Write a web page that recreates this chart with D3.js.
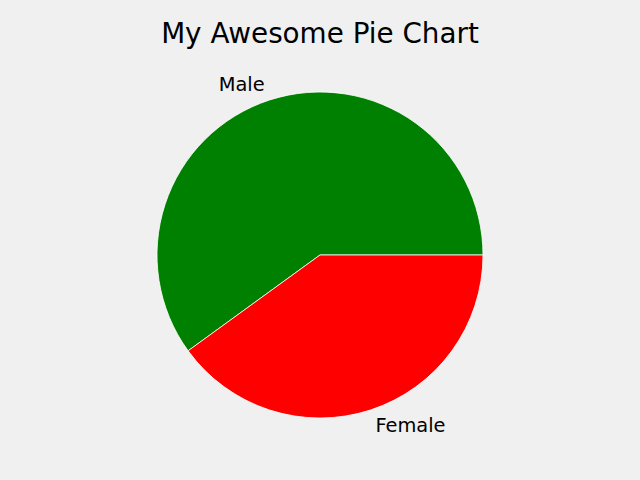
<!DOCTYPE html>
<html>
<head>
<meta charset="utf-8">
<script src="https://cdn.jsdelivr.net/npm/d3@7"></script>
<style>
  html, body { margin: 0; padding: 0; background: #f0f0f0; }
  svg { display: block; }
</style>
</head>
<body>
<script>
const categories = ["Male", "Female"];
const values = [60, 40];
const colors = ["#008000", "#ff0000"];
const title = "My Awesome Pie Chart";

const W = 640, H = 480;
const cx = 320, cy = 255, R = 163;

const svg = d3.select("body").append("svg")
  .attr("width", W).attr("height", H)
  .style("background", "#f0f0f0");

svg.append("text")
  .attr("x", W / 2).attr("y", 43)
  .attr("text-anchor", "middle")
  .attr("font-family", "DejaVu Sans")
  .attr("font-size", 27.8)
  .attr("fill", "#000")
  .text(title);

const data = categories.map((c, i) => ({ name: c, value: values[i], color: colors[i] }));

const pie = d3.pie()
  .sort(null)
  .value(d => d.value)
  .startAngle(Math.PI / 2)
  .endAngle(Math.PI / 2 - 2 * Math.PI);

const arcs = pie(data);
const arc = d3.arc().innerRadius(0).outerRadius(R);
const labelArc = d3.arc().innerRadius(R * 1.1).outerRadius(R * 1.1);

const g = svg.append("g").attr("transform", `translate(${cx},${cy})`);

g.selectAll("path.slice")
  .data(arcs)
  .enter().append("path")
  .attr("class", "slice")
  .attr("d", arc)
  .attr("fill", d => d.data.color)
  .attr("stroke", "#ffffff")
  .attr("stroke-width", 0.8)
  .attr("stroke-linejoin", "round");

g.selectAll("text.label")
  .data(arcs)
  .enter().append("text")
  .attr("class", "label")
  .attr("x", d => labelArc.centroid(d)[0])
  .attr("y", d => labelArc.centroid(d)[1])
  .attr("text-anchor", d => labelArc.centroid(d)[0] < 0 ? "end" : "start")
  .attr("dominant-baseline", "central")
  .attr("font-family", "DejaVu Sans")
  .attr("font-size", 19.4)
  .attr("fill", "#000")
  .text(d => d.data.name);
</script>
</body>
</html>
